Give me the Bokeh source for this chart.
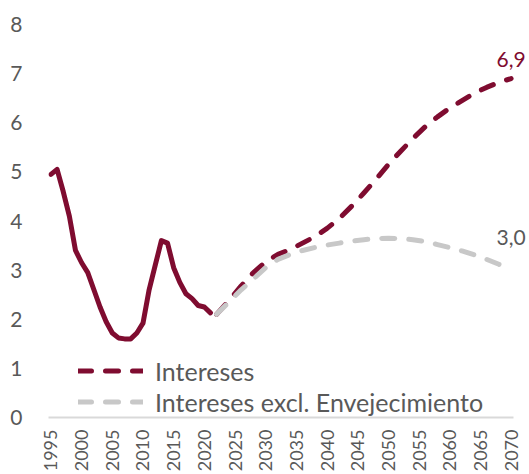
from bokeh.plotting import figure
from bokeh.models import Range1d, FixedTicker, Legend, LegendItem, Label, ColumnDataSource
from bokeh.embed import file_html
from bokeh.resources import INLINE
import math

# ---- data ----
hist_years = [1995, 1996, 1997, 1998, 1999, 2000, 2001, 2002, 2003, 2004, 2005, 2006, 2007,
              2008, 2009, 2010, 2011, 2012, 2013, 2014, 2015, 2016, 2017, 2018, 2019, 2020, 2021]
hist_values = [4.95, 5.05, 4.60, 4.10, 3.40, 3.15, 2.95, 2.60, 2.25, 1.95, 1.72, 1.62, 1.60,
               1.60, 1.72, 1.92, 2.60, 3.10, 3.60, 3.55, 3.05, 2.75, 2.52, 2.42, 2.28, 2.25, 2.13]

proj_years = [2022, 2024, 2026, 2028, 2030, 2032, 2034, 2036, 2038, 2040, 2042, 2044, 2046,
              2048, 2050, 2052, 2054, 2056, 2058, 2060, 2062, 2064, 2066, 2068, 2070]
intereses = [2.10, 2.38, 2.68, 2.95, 3.17, 3.32, 3.42, 3.55, 3.68, 3.85, 4.05, 4.30, 4.57,
             4.85, 5.15, 5.42, 5.68, 5.92, 6.12, 6.30, 6.45, 6.60, 6.72, 6.82, 6.90]
intereses_excl = [2.10, 2.35, 2.60, 2.82, 3.05, 3.22, 3.32, 3.40, 3.46, 3.51, 3.55, 3.59, 3.62,
                  3.64, 3.65, 3.64, 3.62, 3.58, 3.52, 3.46, 3.39, 3.31, 3.22, 3.12, 3.02]

x_ticks = list(range(1995, 2071, 5))
y_ticks = [0, 1, 2, 3, 4, 5, 6, 7, 8]
series_names = ["Intereses", "Intereses excl. Envejecimiento"]
end_labels = ["6,9", "3,0"]

RED = "#7F0C30"
GREY = "#C8C8C8"
TXT = "#595959"
FONT = "Lato"

p = figure(width=529, height=474, output_backend="svg", toolbar_location=None,
           x_range=Range1d(1994.6, 2073.0), y_range=Range1d(0, 8),
           min_border_left=48, min_border_right=0, min_border_top=24, min_border_bottom=56)
p.outline_line_color = None
p.xgrid.visible = False
p.ygrid.visible = False
p.background_fill_color = "white"
p.border_fill_color = "white"

hist_src = ColumnDataSource(dict(x=hist_years, y=hist_values))
proj_src = ColumnDataSource(dict(x=proj_years, a=intereses, b=intereses_excl))

p.line("x", "y", source=hist_src, line_color=RED, line_width=5, line_cap="round", line_join="round")
r_red = p.line("x", "a", source=proj_src, line_color=RED, line_width=5, line_dash="13 14",
               line_cap="round", line_join="round")
r_grey = p.line("x", "b", source=proj_src, line_color=GREY, line_width=5, line_dash="13 14",
                line_cap="round", line_join="round")

# axes
p.xaxis.ticker = FixedTicker(ticks=x_ticks)
p.xaxis.bounds = (1994.6, 2070.4)
p.xaxis.major_label_orientation = math.pi / 2
p.xaxis.major_tick_line_color = None
p.xaxis.minor_tick_line_color = None
p.xaxis.axis_line_color = "#D9D9D9"
p.xaxis.axis_line_width = 2
p.xaxis.major_label_text_font = FONT
p.xaxis.major_label_text_font_size = "18px"
p.xaxis.major_label_text_color = TXT
p.xaxis.major_label_standoff = 6

p.yaxis.ticker = FixedTicker(ticks=y_ticks)
p.yaxis.major_tick_line_color = None
p.yaxis.minor_tick_line_color = None
p.yaxis.axis_line_color = None
p.yaxis.major_label_text_font = FONT
p.yaxis.major_label_text_font_size = "21px"
p.yaxis.major_label_text_color = TXT
p.yaxis.major_label_standoff = 20

# end labels
p.add_layout(Label(x=proj_years[-1], y=intereses[-1], text=end_labels[0], text_align="center",
                   text_baseline="bottom", y_offset=12, text_color=RED,
                   text_font=FONT, text_font_size="21px"))
p.add_layout(Label(x=proj_years[-1], y=intereses_excl[-1], text=end_labels[1], text_align="center",
                   text_baseline="bottom", y_offset=24, text_color=TXT,
                   text_font=FONT, text_font_size="21px"))

legend = Legend(items=[LegendItem(label=series_names[0], renderers=[r_red]),
                       LegendItem(label=series_names[1], renderers=[r_grey])],
                location=(30, 0), orientation="vertical",
                glyph_width=65, glyph_height=31, label_height=31, label_width=10,
                spacing=0, padding=0, margin=0, label_standoff=12,
                background_fill_alpha=0, border_line_color=None,
                label_text_font=FONT, label_text_font_size="25px", label_text_color=TXT)
p.add_layout(legend)

open("out.html", "w").write(file_html(p, INLINE))
